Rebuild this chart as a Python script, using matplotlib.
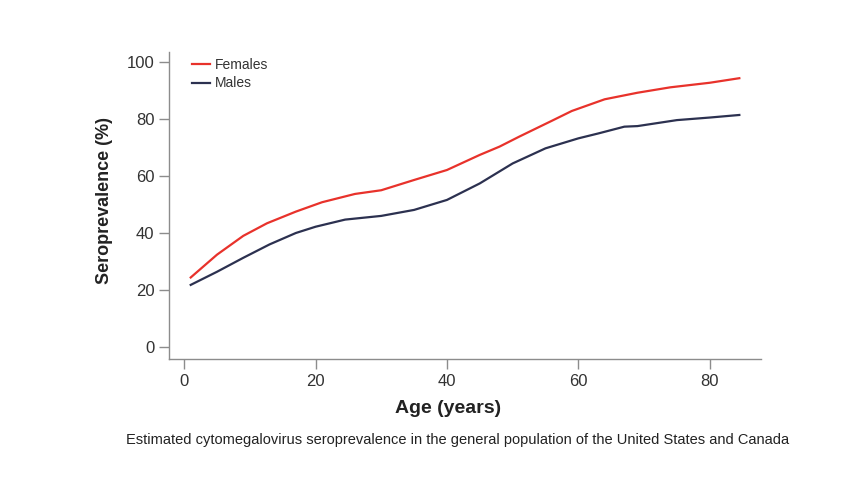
import matplotlib
matplotlib.use("Agg")
import matplotlib.pyplot as plt
from matplotlib import font_manager

fem_age = [1, 5, 9, 12.6, 17, 21, 26, 30, 35, 40, 45, 48, 51, 56, 59, 64, 69, 74, 80, 84.5]
fem_val = [24.4, 32.4, 39.0, 43.4, 47.5, 50.8, 53.7, 55.0, 58.6, 62.1, 67.4, 70.3, 73.8, 79.4, 82.8, 86.9, 89.2, 91.1, 92.7, 94.3]
male_age = [1, 5, 9, 13, 17, 20, 24.5, 30, 35, 40, 45, 50, 55, 60, 63, 67, 69, 75, 80, 84.5]
male_val = [21.8, 26.4, 31.3, 36.0, 40.0, 42.2, 44.7, 46.0, 48.1, 51.6, 57.4, 64.4, 69.7, 73.2, 74.9, 77.3, 77.5, 79.6, 80.5, 81.4]
xticks = [0, 20, 40, 60, 80]
yticks = [0, 20, 40, 60, 80, 100]

plt.rcParams['font.family'] = ['Liberation Sans', 'DejaVu Sans']
names = {f.name for f in font_manager.fontManager.ttflist}
cap_font = 'Liberation Sans Narrow' if 'Liberation Sans Narrow' in names else 'Liberation Sans'

fig = plt.figure(figsize=(8.52, 4.79), dpi=100)
ax = fig.add_axes([0.1984, 0.2505, 0.6948, 0.641])
ax.plot(fem_age, fem_val, color='#e8322b', lw=1.6, label='Females')
ax.plot(male_age, male_val, color='#2c3150', lw=1.6, label='Males')
ax.set_xlim(-2.3, 87.8)
ax.set_ylim(-4.2, 103.5)
ax.set_xticks(xticks)
ax.set_yticks(yticks)
for s in ['top', 'right']:
    ax.spines[s].set_visible(False)
for s in ['left', 'bottom']:
    ax.spines[s].set_color('#8c8c8c')
    ax.spines[s].set_linewidth(1.0)
ax.tick_params(direction='out', length=7.5, width=1.0, color='#8c8c8c',
               labelsize=12, labelcolor='#333333', pad=3)
ax.set_xlabel('Age (years)', fontsize=14, fontweight='bold', color='#222222')
ax.xaxis.set_label_coords(0.471, -0.135)
ax.set_ylabel('Seroprevalence (%)', fontsize=13, fontweight='bold', color='#222222')
ax.yaxis.set_label_coords(-0.094, 0.515)
leg = ax.legend(loc='upper left', bbox_to_anchor=(0.017, 1.02), frameon=False, fontsize=10,
                handlelength=1.3, handletextpad=0.35, labelspacing=0.3)
for t in leg.get_texts():
    t.set_color('#333333')
fig.text(0.537, 0.081, 'Estimated cytomegalovirus seroprevalence in the general population of the United States and Canada',
         ha='center', va='center', fontsize=10.5, color='#222222', family=[cap_font, 'DejaVu Sans'])
fig.savefig('out.png', dpi=100)
